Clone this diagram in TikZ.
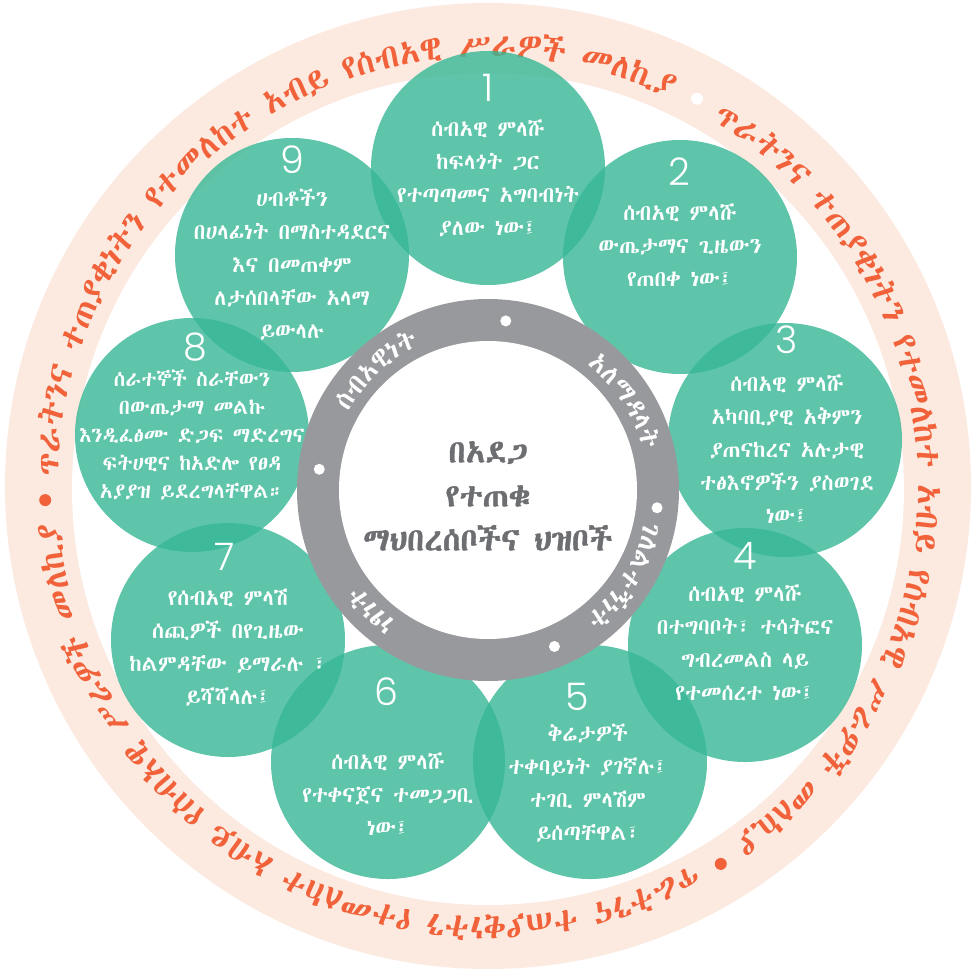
\documentclass[tikz,border=0pt]{standalone}
\usepackage{fontspec}
\usetikzlibrary{decorations.text}
\IfFontExistsTF{Abyssinica SIL}{\newfontfamily\ethfont{Abyssinica SIL}}{%
  \IfFontExistsTF{Noto Sans Ethiopic}{\newfontfamily\ethfont{Noto Sans Ethiopic}}{%
    \IfFontExistsTF{FreeSerif}{\newfontfamily\ethfont{FreeSerif}}{\newfontfamily\ethfont{DejaVu Sans}}}}
\IfFontExistsTF{Poppins Light}{\newfontfamily\numfont{Poppins Light}}{\newfontfamily\numfont{Poppins}}
\definecolor{ringpeach}{RGB}{252,234,224}
\definecolor{ringred}{RGB}{241,98,58}
\definecolor{petalgreen}{RGB}{54,183,150}
\definecolor{hubgrey}{RGB}{152,153,156}
\definecolor{hubtext}{RGB}{109,110,113}
\begin{document}
\begin{tikzpicture}[x=1pt, y=1pt,
    petal/.style={circle, fill=petalgreen, fill opacity=0.8, minimum size=234pt, inner sep=0pt},
    num/.style={text=white, inner sep=0pt, font=\numfont\fontsize{38}{38}\selectfont},
    txt/.style={text=white, align=center, inner sep=0pt, font=\ethfont\fontsize{22}{33}\selectfont},
    hub/.style={text=hubtext, align=center, inner sep=0pt, font=\ethfont\addfontfeature{FakeBold=1.2}\fontsize{32}{44}\selectfont},
    ringtext/.style={decorate, decoration={text along path, text align=center, text color=ringred,
        text={|\ethfont\fontsize{33.5}{33.5}\selectfont|#1}}},
    hubring/.style={decorate, decoration={text along path, text align=center, text color=white,
        text={|\ethfont\fontsize{27}{27}\selectfont|#1}}}]
    \useasboundingbox (-488,-483) rectangle (488,487);

    \fill[ringpeach] (0,1) circle (483);
    \fill[white] (0,-2) circle (416);
    \path[ringtext={ጥራትንና ተጠያቂነትን የተመለከተ አብይ የሰብአዊ ሥራዎች መለኪያ}] (179.7:430) arc[start angle=179.7, end angle=63.7, radius=430];
    \path[ringtext={ጥራትንና ተጠያቂነትን የተመለከተ አብይ የሰብአዊ ሥራዎች መለኪያ}] (59.7:430) arc[start angle=59.7, end angle=-56.3, radius=430];
    \path[ringtext={ጥራትንና ተጠያቂነትን የተመለከተ አብይ የሰብአዊ ሥራዎች መለኪያ}] (-60.3:430) arc[start angle=-60.3, end angle=-176.3, radius=430];
    \fill[ringred] (181.7:443) circle (6);
    \fill[white] (61.7:441) circle (6);
    \fill[ringred] (-58.3:443) circle (6);

    \node[petal] (p1) at (0,319) {};
    \node[petal] (p2) at (192,230) {};
    \node[petal] (p3) at (297,47) {};
    \node[petal] (p4) at (257,-158) {};
    \node[petal] (p5) at (102,-275) {};
    \node[petal] (p6) at (-100,-275) {};
    \node[petal] (p7) at (-260,-153) {};
    \node[petal] (p8) at (-296,52) {};
    \node[petal] (p9) at (-196,232) {};

    \begin{scope}[shift={(0,-3)}]
    \fill[hubgrey] (0,0) circle (191);
    \fill[white] (0,0) circle (149);
    \path[hubring={ሰብአዊነት}] (173:160) arc[start angle=173, end angle=93, radius=160];
    \path[hubring={አለማዳላት}] (73:160) arc[start angle=73, end angle=-7, radius=160];
    \path[hubring={ገለልተኝነት}] (10:160) arc[start angle=10, end angle=-74, radius=160];
    \path[hubring={ነፃነት}] (-98:160) arc[start angle=-98, end angle=-170, radius=160];
    \fill[white] (84:170) circle (5.5);
    \fill[white] (-6:170) circle (5.5);
    \fill[white] (-67:170) circle (5.5);
    \fill[white] (173:170) circle (5.5);
    \end{scope}
    \node[hub] (hub) at (0,-9) {በአደጋ\\የተጠቁ\\ማህበረሰቦችና ህዝቦች};

    \node[num] (n1) at (0,399) {1};
    \node[txt] (t1) at (0,309) {ሰብአዊ ምላሹ\\ከፍላጎት ጋር\\የተጣጣመና አግባብነት\\ያለው ነው፤};
    \node[num] (n2) at (191,315) {2};
    \node[txt] (t2) at (192,242) {ሰብአዊ ምላሹ\\ውጤታማና ጊዜውን\\የጠበቀ ነው፤};
    \node[num] (n3) at (299,147) {3};
    \node[txt] (t3) at (299,38) {ሰብአዊ ምላሹ\\አካባቢያዊ አቅምን\\ያጠናከረና  አሉታዊ\\ተፅእኖዎችን ያስወገደ\\ነው፤};
    \node[num] (n4) at (257,-69) {4};
    \node[txt] (t4) at (257,-156) {ሰብአዊ ምላሹ\\በተግባቦት፣ ተሳትፎና\\ግብረመልስ ላይ\\የተመሰረተ ነው፤};
    \node[num] (n5) at (89,-210) {5};
    \node[txt] (t5) at (100,-296) {ቅሬታዎች\\ተቀባይነት ያገኛሉ፤\\ተገቢ ምላሽም\\ይሰጣቸዋል፣};
    \node[num] (n6) at (-102,-205) {6};
    \node[txt] (t6) at (-100,-307) {ሰብአዊ ምላሹ\\የተቀናጀና ተመጋጋቢ\\ነው፤};
    \node[num] (n7) at (-263,-70) {7};
    \node[txt] (t7) at (-260,-161) {የሰብአዊ ምላሽ\\ሰጪዎች በየጊዜው\\ከልምዳቸው ይማራሉ ፣\\ይሻሻላሉ፤};
    \node[num] (n8) at (-293,140) {8};
    \node[txt, font=\ethfont\fontsize{21}{28}\selectfont] (t8) at (-296,52) {ሰራተኞች ስራቸውን\\በውጤታማ መልኩ\\እንዲፈፅሙ ድጋፍ ማድረግና\\ፍትሀዊና ከአድሎ የፀዳ\\አያያዝ ይደረግላቸዋል።};
    \node[num] (n9) at (-196,327) {9};
    \node[txt] (t9) at (-196,222) {ሀብቶችን\\በሀላፊነት በማስተዳደርና\\እና በመጠቀም\\ለታሰበላቸው አላማ\\ይውላሉ};
\end{tikzpicture}
\end{document}
